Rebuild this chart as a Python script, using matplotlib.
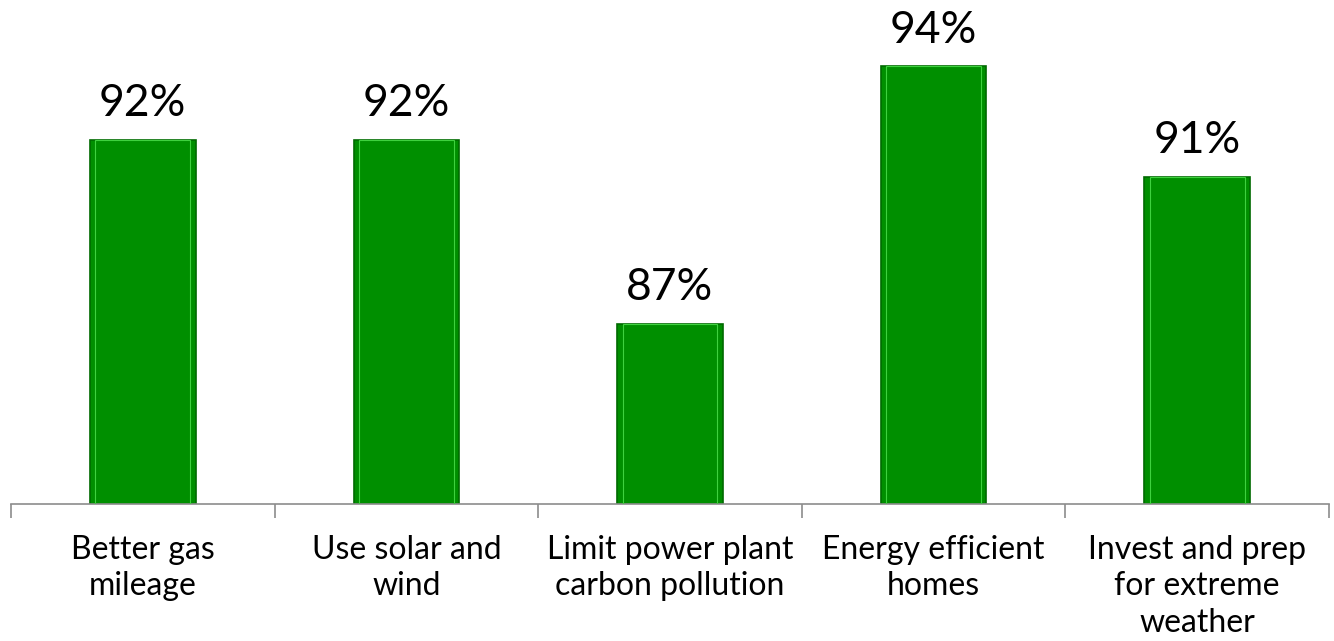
import matplotlib.pyplot as plt
from matplotlib.ticker import FixedLocator

categories = ['Better gas\nmileage', 'Use solar and\nwind', 'Limit power plant\ncarbon pollution',
              'Energy efficient\nhomes', 'Invest and prep\nfor extreme\nweather']
values = [92, 92, 87, 94, 91]
labels = ['92%', '92%', '87%', '94%', '91%']

plt.rcParams['font.family'] = ['Lato', 'DejaVu Sans']

fig = plt.figure(figsize=(13.34, 6.41), dpi=100)
ax = fig.add_axes([11 / 1334, 1 - 504 / 641, 1318 / 1334, 504 / 641])

x = range(len(values))
ax.bar(x, values, width=0.4, color='#008f00', edgecolor='#006a00', linewidth=1.2, zorder=2)
# light highlight inside the bars
ax.bar(x, values, width=0.36, color='none', edgecolor='#3fd13f', linewidth=0.8, zorder=3)

for i, v in enumerate(values):
    ax.text(i, v + 0.42, labels[i], ha='center', va='bottom', fontsize=32, color='black')

ax.set_ylim(82.1, 95.8)
ax.set_xlim(-0.5, len(values) - 0.5)

for s in ['left', 'right', 'top']:
    ax.spines[s].set_visible(False)
ax.spines['bottom'].set_color('#8c8c8c')
ax.spines['bottom'].set_linewidth(1.2)

ax.set_yticks([])
ax.set_xticks(list(x))
ax.set_xticklabels(categories, fontsize=23, linespacing=1.28)
ax.tick_params(axis='x', which='major', length=0, pad=22)
ax.xaxis.set_minor_locator(FixedLocator([i - 0.5 for i in range(len(values) + 1)]))
ax.tick_params(axis='x', which='minor', length=10, width=1.2, color='#8c8c8c')

fig.savefig('out.png', dpi=100)
